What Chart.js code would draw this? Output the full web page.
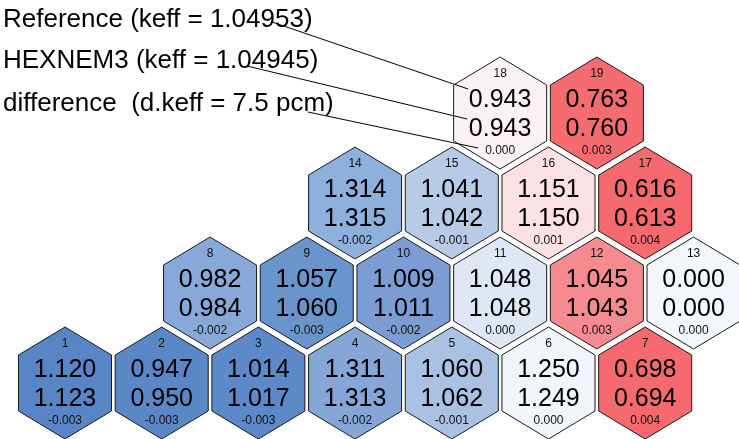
<!DOCTYPE html>
<html lang="en">
<head>
    <meta charset="UTF-8">
    <title>Hex map</title>
    <style>
        body { margin: 0; background: #fff; }
        #wrap { width: 739px; height: 439px; }
    </style>
</head>
<body>
    <div id="wrap"><canvas id="hexChart" width="739" height="439"></canvas></div>

    <script src="https://cdn.jsdelivr.net/npm/chart.js"></script>
    <script>
        // assembly numbers and their place in the hex grid (column, row)
        const hexIds = [1, 2, 3, 4, 5, 6, 7, 8, 9, 10, 11, 12, 13, 14, 15, 16, 17, 18, 19];
        const hexCols = [0, 1, 2, 3, 4, 5, 6, 1, 2, 3, 4, 5, 6, 2, 3, 4, 5, 3, 4];
        const hexRows = [0, 0, 0, 0, 0, 0, 0, 1, 1, 1, 1, 1, 1, 2, 2, 2, 2, 3, 3];

        const refValues = [1.120, 0.947, 1.014, 1.311, 1.060, 1.250, 0.698,
            0.982, 1.057, 1.009, 1.048, 1.045, 0.000,
            1.314, 1.041, 1.151, 0.616,
            0.943, 0.763];
        const hexnemValues = [1.123, 0.950, 1.017, 1.313, 1.062, 1.249, 0.694,
            0.984, 1.060, 1.011, 1.048, 1.043, 0.000,
            1.315, 1.042, 1.150, 0.613,
            0.943, 0.760];
        const diffValues = [-0.003, -0.003, -0.003, -0.002, -0.001, 0.000, 0.004,
            -0.002, -0.003, -0.002, 0.000, 0.003, 0.000,
            -0.002, -0.001, 0.001, 0.004,
            0.000, 0.003];

        const legendLines = ['Reference (keff = 1.04953)', 'HEXNEM3 (keff = 1.04945)', 'difference  (d.keff = 7.5 pcm)'];

        // fill colours
        const fillColors = ['#5785c5', '#5a88c7', '#5c89c8', '#86a6d7', '#a9c1e3', '#f0f4fb', '#f56a6e',
            '#87a8d8', '#6a94cc', '#7b9dd3', '#dfe7f4', '#f58b8e', '#f3f6fc',
            '#8db0dc', '#b7cbe7', '#fbe1e4', '#f56a6e',
            '#fcf2f5', '#f56c70'];

        const FONT = '"Liberation Sans", Arial, Helvetica, sans-serif';

        const fmt = v => (v < 0 ? '-' : '') + Math.abs(v).toFixed(3);

        const hexPlugin = {
            id: 'hexPlugin',
            afterDatasetsDraw(chart) {
                const ctx = chart.ctx;
                const xs = chart.scales.x, ys = chart.scales.y;
                const ux = xs.getPixelForValue(1) - xs.getPixelForValue(0);
                const uy = ys.getPixelForValue(0) - ys.getPixelForValue(1);
                const w = 0.481 * ux, h = 0.622 * uy;
                const meta = chart.getDatasetMeta(0);

                ctx.save();
                meta.data.forEach((pt, i) => {
                    const x = pt.x, y = pt.y;
                    ctx.beginPath();
                    ctx.moveTo(x, y - h);
                    ctx.lineTo(x + w, y - h / 2);
                    ctx.lineTo(x + w, y + h / 2);
                    ctx.lineTo(x, y + h);
                    ctx.lineTo(x - w, y + h / 2);
                    ctx.lineTo(x - w, y - h / 2);
                    ctx.closePath();
                    ctx.fillStyle = fillColors[i];
                    ctx.fill();
                    ctx.lineWidth = 1;
                    ctx.strokeStyle = '#1a1a1a';
                    ctx.stroke();

                    ctx.textAlign = 'center';
                    ctx.textBaseline = 'alphabetic';
                    ctx.fillStyle = '#111';
                    ctx.font = '12px ' + FONT;
                    ctx.fillText(String(hexIds[i]), x, y - 36);
                    ctx.fillText(fmt(diffValues[i]), x, y + 41);
                    ctx.fillStyle = '#000';
                    ctx.font = '25px ' + FONT;
                    ctx.fillText(refValues[i].toFixed(3), x, y - 6);
                    ctx.fillText(hexnemValues[i].toFixed(3), x, y + 23);
                });

                // legend text with leader lines to assembly 18
                const p18 = meta.data[17];
                ctx.textAlign = 'left';
                ctx.fillStyle = '#000';
                ctx.font = '26px ' + FONT;
                const baselines = [27, 68, 111];
                legendLines.forEach((t, k) => ctx.fillText(t, 3, baselines[k]));

                const starts = [[272, 22], [247, 66], [308, 112]];
                const ends = [[p18.x - 32, p18.y - 24], [p18.x - 33, p18.y + 6], [p18.x - 22, p18.y + 35]];
                ctx.strokeStyle = '#000';
                ctx.lineWidth = 1;
                starts.forEach((s, k) => {
                    ctx.beginPath();
                    ctx.moveTo(s[0], s[1]);
                    ctx.lineTo(ends[k][0], ends[k][1]);
                    ctx.stroke();
                });
                ctx.restore();
            }
        };

        const ctx = document.getElementById('hexChart').getContext('2d');
        const hexChart = new Chart(ctx, {
            type: 'scatter',
            data: {
                datasets: [{
                    label: 'assemblies',
                    data: hexIds.map((id, i) => ({ x: hexCols[i] + 0.5 * hexRows[i], y: hexRows[i] })),
                    pointRadius: 0,
                    pointHoverRadius: 0
                }]
            },
            options: {
                responsive: false,
                animation: false,
                layout: { padding: 0 },
                plugins: {
                    legend: { display: false },
                    tooltip: { enabled: false }
                },
                scales: {
                    x: { type: 'linear', display: false, min: -0.672, max: 6.970 },
                    y: { type: 'linear', display: false, min: -0.622, max: 4.2556 }
                }
            },
            plugins: [hexPlugin]
        });
    </script>
</body>
</html>
